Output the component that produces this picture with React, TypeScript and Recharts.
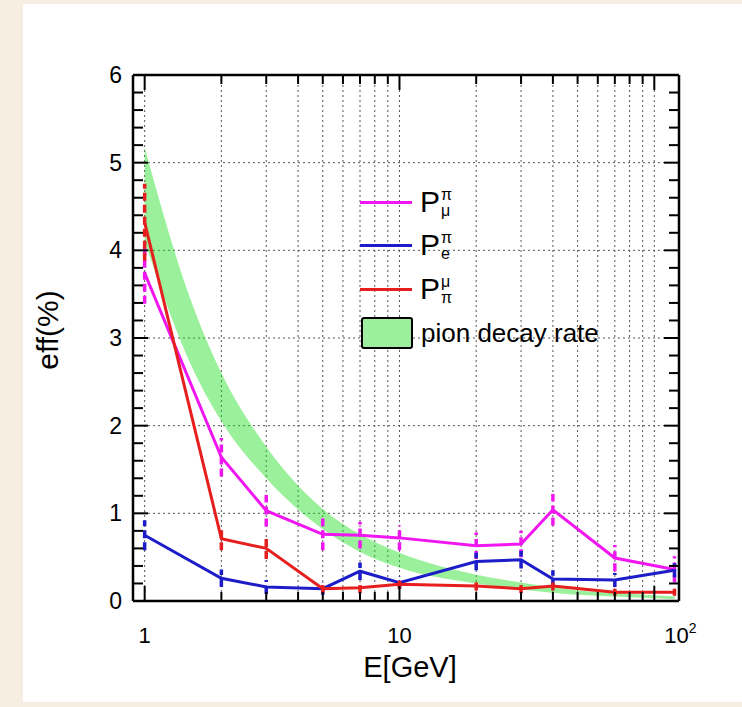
import React from "react"
import { ComposedChart, Line, Area, XAxis, YAxis, CartesianGrid, ErrorBar, Legend } from "recharts"

const FONT = '"Liberation Sans", Arial, Helvetica, sans-serif'

// energies of the measured points (GeV)
const energies = [1, 2, 3, 5, 7, 10, 20, 30, 40, 70, 120]
// P_mu^pi (magenta)
const pMuPi = [3.74, 1.64, 1.03, 0.76, 0.75, 0.72, 0.63, 0.65, 1.04, 0.49, 0.36]
const pMuPiErr = [0.35, 0.22, 0.18, 0.18, 0.15, 0.14, 0.15, 0.15, 0.18, 0.15, 0.15]
// P_e^pi (blue)
const pEPi = [0.75, 0.26, 0.16, 0.14, 0.34, 0.21, 0.45, 0.47, 0.25, 0.24, 0.35]
const pEPiErr = [0.17, 0.1, 0.08, 0.07, 0.1, 0.07, 0.1, 0.1, 0.1, 0.08, 0.08]
// P_pi^mu (red)
const pPiMu = [4.32, 0.71, 0.6, 0.14, 0.15, 0.19, 0.17, 0.14, 0.17, 0.1, 0.1]
const pPiMuErr = [0.44, 0.13, 0.12, 0.05, 0.06, 0.05, 0.05, 0.05, 0.05, 0.04, 0.04]

// pion decay rate band
const bandEnergies = [1, 1.5, 2, 3, 5, 7, 10, 20, 30, 50, 70, 120]
const bandLow = [4.1, 2.73, 2.05, 1.4, 0.82, 0.56, 0.38, 0.2, 0.13, 0.07, 0.05, 0.02]
const bandHigh = [5.17, 3.47, 2.6, 1.76, 1.05, 0.76, 0.55, 0.3, 0.21, 0.12, 0.09, 0.05]

// axes
const xDomain = [0.9, 125]
const xTicks = [1, 2, 3, 4, 5, 6, 7, 8, 9, 10, 20, 30, 40, 50, 60, 70, 80, 90, 100]
const xMajor = [1, 10, 100]
const xMinor = [2, 3, 4, 5, 6, 7, 8, 9, 20, 30, 40, 50, 60, 70, 80, 90]
const yTicks = [0, 1, 2, 3, 4, 5, 6]
const yMinor = [
    0.2, 0.4, 0.6, 0.8, 1.2, 1.4, 1.6, 1.8, 2.2, 2.4, 2.6, 2.8,
    3.2, 3.4, 3.6, 3.8, 4.2, 4.4, 4.6, 4.8, 5.2, 5.4, 5.6, 5.8,
]

const MAGENTA = "#f016f0"
const BLUE = "#1c1cc8"
const RED = "#e61e1e"

const lineData = energies.map((e, i) => ({
    e,
    muPi: pMuPi[i], muPiErr: pMuPiErr[i],
    ePi: pEPi[i], ePiErr: pEPiErr[i],
    piMu: pPiMu[i], piMuErr: pPiMuErr[i],
}))

const bandData = bandEnergies.map((e, i) => ({ e, range: [bandLow[i], bandHigh[i]] }))

function XTick(props: any) {
    const { x, y, payload } = props
    const v = payload.value
    const base = { fontSize: 22, fontFamily: FONT, fill: "#000" }
    if (v === 1 || v === 10) {
        return <text x={x} y={y + 42} textAnchor="middle" {...base}>{v}</text>
    }
    if (v === 100) {
        return (
            <text x={x + 10} y={y + 42} textAnchor="start" {...base}>
                10<tspan dy={-10} fontSize={14}>2</tspan>
            </text>
        )
    }
    return <g />
}

const noLabel = () => <g />

function PLabel({ sup, sub }: { sup: string; sub: string }) {
    return (
        <span style={{ display: "inline-flex", alignItems: "center" }}>
            <span style={{ fontSize: 30, lineHeight: "30px" }}>P</span>
            <span style={{ display: "inline-flex", flexDirection: "column", fontSize: 16, lineHeight: "16px", marginLeft: 1, marginTop: 2 }}>
                <span>{sup}</span>
                <span>{sub}</span>
            </span>
        </span>
    )
}

function LegendContent() {
    const rows = [
        { color: MAGENTA, sup: "π", sub: "μ", top: 22 },
        { color: BLUE, sup: "π", sub: "e", top: 65 },
        { color: RED, sup: "μ", sub: "π", top: 109 },
    ]
    return (
        <div style={{ position: "relative", width: 270, height: 180, fontFamily: FONT, color: "#000" }}>
            {rows.map(r => (
                <div key={r.sub + r.sup} style={{ position: "absolute", left: 0, top: r.top - 18, height: 36, display: "flex", alignItems: "center" }}>
                    <div style={{ width: 52, height: 3, background: r.color, marginLeft: 4 }} />
                    <div style={{ marginLeft: 8 }}><PLabel sup={r.sup} sub={r.sub} /></div>
                </div>
            ))}
            <div style={{ position: "absolute", left: 0, top: 137, display: "flex", alignItems: "center" }}>
                <div style={{ width: 48, height: 28, marginLeft: 5, border: "2px solid #000", borderRadius: 3, background: "#9cef9c" }} />
                <span style={{ fontSize: 26, marginLeft: 8, lineHeight: "32px" }}>pion decay rate</span>
            </div>
        </div>
    )
}

const tickLineStyle = { stroke: "#000", strokeWidth: 2 }
const frameLine = { stroke: "#000", strokeWidth: 2.5 }

export default function App() {
    return (
        <div style={{ position: "absolute", left: 0, top: 0, width: 742, height: 707, background: "#f6eee0" }}>
            <div style={{ position: "absolute", left: 23, top: 4, width: 719, height: 698, background: "#fff" }} />
            <div style={{ position: "absolute", left: 0, top: 0 }}>
                <ComposedChart
                    width={742}
                    height={707}
                    data={lineData}
                    margin={{ top: 75, right: 63, left: 73, bottom: 26 }}
                >
                    <CartesianGrid stroke="#555" strokeDasharray="2 3" strokeWidth={1} />
                    <XAxis
                        dataKey="e" type="number" scale="log" domain={xDomain} allowDataOverflow
                        ticks={xTicks} interval={0} height={80} tickSize={0} tickMargin={0}
                        tickLine={false} axisLine={frameLine}
                        tick={<XTick />}
                        label={{
                            content: (p: any) => {
                                const vb = p.viewBox
                                return <text x={vb.x + vb.width / 2 + 4} y={vb.y + 76} textAnchor="middle" fontSize={29} fontFamily={FONT} fill="#000">E[GeV]</text>
                            },
                        }}
                    />
                    <YAxis
                        type="number" domain={[0, 6]} allowDataOverflow ticks={yTicks} interval={0}
                        width={60} tickSize={0} tickMargin={11} tickLine={false}
                        axisLine={frameLine}
                        tick={{ fontSize: 23, fill: "#000", fontFamily: FONT }}
                        label={{
                            content: (p: any) => {
                                const vb = p.viewBox
                                const cx = vb.x + vb.width - 86
                                const cy = vb.y + vb.height / 2 - 8
                                return <text x={cx} y={cy} transform={`rotate(-90 ${cx} ${cy})`} textAnchor="middle" dominantBaseline="central" fontSize={30} fontFamily={FONT} fill="#000">eff(%)</text>
                            },
                        }}
                    />

                    {/* inward tick marks on all four sides */}
                    <XAxis xAxisId="bMaj" dataKey="e" type="number" scale="log" domain={xDomain} allowDataOverflow orientation="bottom" mirror height={1} ticks={xMajor} interval={0} tick={noLabel} axisLine={false} tickSize={15} tickLine={tickLineStyle} />
                    <XAxis xAxisId="bMin" dataKey="e" type="number" scale="log" domain={xDomain} allowDataOverflow orientation="bottom" mirror height={1} ticks={xMinor} interval={0} tick={noLabel} axisLine={false} tickSize={8} tickLine={tickLineStyle} />
                    <XAxis xAxisId="tMaj" dataKey="e" type="number" scale="log" domain={xDomain} allowDataOverflow orientation="top" mirror height={1} ticks={xMajor} interval={0} tick={noLabel} axisLine={frameLine} tickSize={15} tickLine={tickLineStyle} />
                    <XAxis xAxisId="tMin" dataKey="e" type="number" scale="log" domain={xDomain} allowDataOverflow orientation="top" mirror height={1} ticks={xMinor} interval={0} tick={noLabel} axisLine={false} tickSize={8} tickLine={tickLineStyle} />
                    <YAxis yAxisId="lMaj" type="number" domain={[0, 6]} allowDataOverflow orientation="left" mirror width={1} ticks={yTicks} interval={0} tick={noLabel} axisLine={false} tickSize={15} tickLine={tickLineStyle} />
                    <YAxis yAxisId="lMin" type="number" domain={[0, 6]} allowDataOverflow orientation="left" mirror width={1} ticks={yMinor} interval={0} tick={noLabel} axisLine={false} tickSize={9} tickLine={tickLineStyle} />
                    <YAxis yAxisId="rMaj" type="number" domain={[0, 6]} allowDataOverflow orientation="right" mirror width={1} ticks={yTicks} interval={0} tick={noLabel} axisLine={frameLine} tickSize={15} tickLine={tickLineStyle} />
                    <YAxis yAxisId="rMin" type="number" domain={[0, 6]} allowDataOverflow orientation="right" mirror width={1} ticks={yMinor} interval={0} tick={noLabel} axisLine={false} tickSize={9} tickLine={tickLineStyle} />

                    <Line dataKey="muPi" type="linear" stroke={MAGENTA} strokeWidth={3} dot={false} isAnimationActive={false}>
                        <ErrorBar dataKey="muPiErr" width={0} stroke={MAGENTA} strokeWidth={3.5} strokeDasharray="8 4" />
                    </Line>
                    <Line dataKey="ePi" type="linear" stroke={BLUE} strokeWidth={3} dot={false} isAnimationActive={false}>
                        <ErrorBar dataKey="ePiErr" width={0} stroke={BLUE} strokeWidth={3.5} strokeDasharray="8 4" />
                    </Line>
                    <Line dataKey="piMu" type="linear" stroke={RED} strokeWidth={3} dot={false} isAnimationActive={false}>
                        <ErrorBar dataKey="piMuErr" width={0} stroke={RED} strokeWidth={3.5} strokeDasharray="8 4" />
                    </Line>
                    <Area
                        data={bandData} dataKey="range" type="monotone"
                        fill="#22dd22" fillOpacity={0.45} stroke="none"
                        isAnimationActive={false}
                    />

                    <Legend
                        layout="vertical" align="center" verticalAlign="middle"
                        content={<LegendContent />}
                        wrapperStyle={{ left: 356, top: 180, width: 270, height: 180 }}
                    />
                </ComposedChart>
            </div>
        </div>
    )
}
